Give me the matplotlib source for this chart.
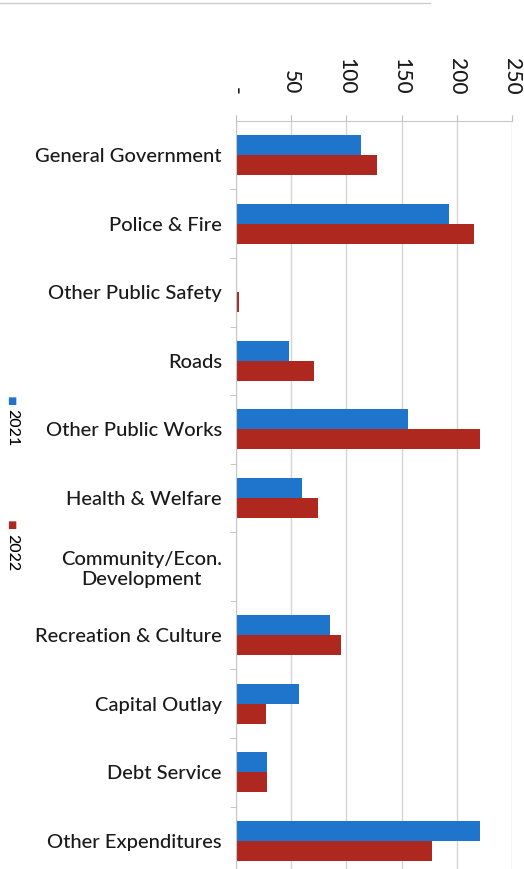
import numpy as np
import matplotlib.pyplot as plt

categories = ["General Government", "Police & Fire", "Other Public Safety", "Roads",
              "Other Public Works", "Health & Welfare", "Community/Econ.\nDevelopment",
              "Recreation & Culture", "Capital Outlay", "Debt Service", "Other Expenditures"]
vals_2021 = [113, 193, 0, 48, 156, 60, 0, 85, 57, 28, 221]
vals_2022 = [128, 215, 2.5, 71, 221, 74, 1.5, 95, 27, 28, 177]
ticks = [0, 50, 100, 150, 200, 250]
tick_labels = ["-", "50", "100", "150", "200", "250"]

blue = "#1F75CC"
red = "#AE2820"
plt.rcParams['font.family'] = ['Lato', 'DejaVu Sans']

fig = plt.figure(figsize=(5.24, 8.69), dpi=100)
ax = fig.add_axes([0.450, -0.007, 0.528, 0.868])

y = np.arange(len(categories))
h = 0.29
ax.barh(y - h / 2, vals_2021, height=h, color=blue, label="2021")
ax.barh(y + h / 2, vals_2022, height=h, color=red, label="2022")

ax.set_ylim(len(categories) - 0.5, -0.5)
ax.set_xlim(0, 250)
ax.set_yticks(y)
ax.set_yticklabels(categories, fontsize=14.5, fontweight="medium",
                   ha="right", multialignment="center", color="#1A1A1A")
ax.tick_params(axis="y", length=0, pad=10)
ax.set_yticks(np.arange(len(categories)) + 0.5, minor=True)
ax.tick_params(axis="y", which="minor", length=4, color="#BBBBBB")

ax.xaxis.tick_top()
ax.set_xticks(ticks)
ax.set_xticklabels(tick_labels, rotation=-90, fontsize=15, fontweight="medium", color="#1A1A1A")
ax.tick_params(axis="x", length=4, color="#BBBBBB", pad=15)
ax.grid(axis="x", color="#D5D5D5", linewidth=1)
ax.set_axisbelow(True)

for s in ["right", "bottom"]:
    ax.spines[s].set_visible(False)
ax.spines["top"].set_color("#C8C8C8")
ax.spines["left"].set_color("#C8C8C8")

# rotated legend on the left
fig.text(0.022, 0.538, "■", color=blue, fontsize=7, ha="center", va="center")
fig.text(0.024, 0.508, "2021", rotation=-90, fontsize=11.5, fontweight="medium", ha="center", va="center")
fig.text(0.022, 0.395, "■", color=red, fontsize=7, ha="center", va="center")
fig.text(0.024, 0.364, "2022", rotation=-90, fontsize=11.5, fontweight="medium", ha="center", va="center")

fig.add_artist(plt.Line2D([0, 0.82], [0.996, 0.996], color="#CCCCCC", linewidth=1))

fig.savefig("out.png", dpi=100)
